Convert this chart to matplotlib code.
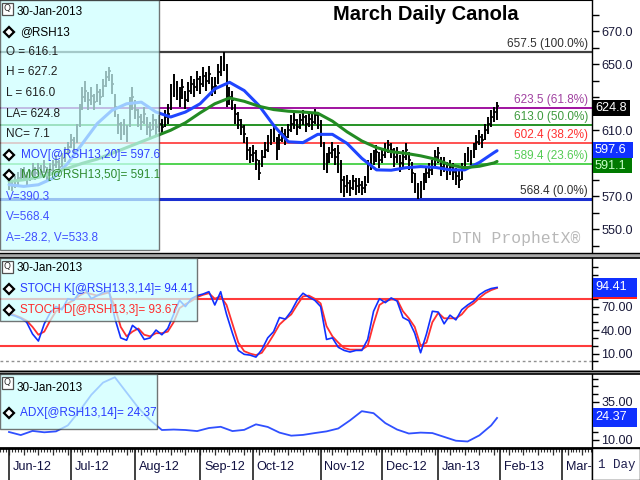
import numpy as np
import matplotlib
matplotlib.use("Agg")
import matplotlib.pyplot as plt
from matplotlib import font_manager
from matplotlib.patches import Rectangle
from matplotlib.lines import Line2D
import matplotlib.transforms as mtransforms

# ---------------- data (trading days from 1-Jun-2012 to 30-Jan-2013) ----------------
closes = [578, 576, 579, 581, 583, 584, 580, 583, 586, 584,
          587, 585, 588, 584, 586, 589, 591, 588, 593, 596,
          600, 604, 602, 610, 622, 630, 634, 628, 631, 627,
          633, 630, 637, 642, 646, 638, 624, 614, 610, 613,
          608, 625, 630, 622, 618, 615, 620, 612, 610, 616,
          612, 614, 612, 618, 620, 632, 638, 634, 630, 636,
          628, 634, 638, 636, 641, 638, 643, 640, 644, 636,
          637, 645, 650, 654, 630, 630, 628, 620, 616, 612,
          608, 598, 595, 596, 592, 584, 594, 598, 602, 606,
          608, 598, 604, 608, 606, 610, 614, 616, 612, 616,
          618, 614, 617, 615, 619, 616, 608, 595, 590, 596,
          598, 594, 596, 580, 576, 578, 575, 579, 576, 577,
          575, 577, 588, 592, 594, 597, 592, 595, 598, 601,
          598, 594, 596, 590, 594, 598, 592, 584, 578, 572,
          574, 580, 584, 586, 588, 594, 596, 588, 590, 586,
          588, 585, 582, 580, 586, 592, 596, 594, 598, 603,
          606, 604, 610, 614, 618, 621, 624.8]
highs = [582, 580, 582, 585, 587, 588, 585, 586, 590, 588,
         590, 589, 592, 588, 590, 592, 595, 592, 596, 600,
         603, 608, 606, 614, 626, 636, 640, 633, 636, 632,
         638, 635, 641, 646, 648, 644, 632, 620, 615, 617,
         613, 630, 636, 628, 623, 620, 624, 618, 615, 620,
         617, 619, 617, 622, 626, 638, 644, 640, 636, 641,
         634, 639, 643, 641, 646, 643, 648, 645, 649, 642,
         642, 650, 655, 657.5, 650, 636, 634, 626, 621, 617,
         613, 606, 600, 601, 598, 592, 598, 603, 607, 611,
         613, 606, 608, 612, 611, 614, 619, 621, 617, 620,
         622, 619, 621, 620, 623, 621, 616, 603, 596, 600,
         603, 599, 601, 592, 582, 583, 580, 583, 581, 581,
         579, 582, 592, 596, 598, 601, 597, 599, 602, 604,
         602, 599, 600, 595, 598, 602, 597, 591, 584, 578,
         579, 584, 588, 590, 592, 598, 600, 594, 594, 591,
         592, 590, 587, 586, 590, 596, 600, 598, 602, 607,
         610, 608, 614, 618, 622, 624, 627.2]
lows = [574, 573, 575, 577, 579, 580, 576, 579, 582, 580,
        583, 581, 584, 580, 582, 585, 587, 584, 588, 591,
        595, 599, 597, 602, 612, 622, 627, 622, 625, 622,
        627, 625, 630, 636, 640, 632, 618, 608, 604, 607,
        603, 612, 622, 617, 612, 610, 614, 607, 605, 610,
        607, 609, 607, 612, 614, 622, 630, 628, 624, 629,
        623, 627, 632, 630, 634, 632, 636, 634, 638, 631,
        632, 638, 643, 646, 624, 625, 622, 614, 611, 607,
        602, 592, 590, 591, 586, 580, 588, 593, 597, 601,
        603, 592, 598, 603, 601, 605, 609, 611, 607, 611,
        613, 609, 612, 610, 614, 611, 600, 586, 584, 590,
        593, 589, 584, 572, 569.5, 572, 570, 574, 571, 572,
        570.5, 572, 578, 586, 589, 591, 587, 590, 593, 596,
        593, 588, 590, 585, 588, 592, 586, 578, 572, 568.4,
        569, 574, 578, 581, 583, 588, 590, 582, 585, 580,
        583, 580, 577, 575, 580, 586, 591, 589, 593, 598,
        601, 599, 604, 608, 612, 615, 616.0]

ma_step = 5   # moving averages read every 5 trading days (+ last day)
ma20 = [577, 576, 577, 581, 590, 602, 614, 622, 626, 627,
        621, 618, 621, 626, 635, 639, 634, 625, 613, 603,
        602.5, 607.5, 607.5, 602, 593, 586, 585.8, 587.3, 588, 587.5,
        586, 586, 590.5, 596.5, 597.6]
ma50 = [579, 580, 581.5, 584, 587, 590, 592.5, 596, 599.5, 603,
        606.5, 610, 614.5, 620.5, 626, 629.5, 627.5, 624.5, 622.5, 621.5,
        621, 620.3, 615.5, 609, 603.5, 599.5, 597, 596, 594.5, 592.5,
        589, 587.3, 588.2, 590.2, 591.1]

stoch_step = 2
stoch_k = [60, 58, 55, 50, 35, 26, 48, 62, 70, 66,
           80, 78, 88, 92, 80, 84, 88, 90, 55, 30,
           27, 46, 40, 28, 30, 40, 34, 42, 60, 78,
           70, 80, 84, 86, 89, 72, 89, 60, 36, 14,
           9, 8, 5.5, 15, 30, 38, 56, 54, 64, 78,
           87, 82, 78, 70, 28, 30, 18, 14, 12, 14,
           14, 28, 64, 80, 75, 81, 77, 56, 52, 36,
           11, 35, 64, 63, 48, 59, 53, 66, 72, 77,
           85, 90, 93, 94.41]
stoch_d = [62, 59, 56, 52, 44, 34, 38, 52, 64, 68,
           74, 78, 84, 88, 86, 84, 86, 88, 70, 44,
           32, 38, 42, 34, 32, 36, 36, 38, 50, 68,
           73, 77, 82, 85, 87, 80, 83, 72, 48, 24,
           13, 10, 8, 11, 22, 34, 47, 54, 60, 72,
           83, 84, 80, 74, 45, 32, 24, 17, 15, 15,
           15, 20, 48, 72, 77, 79, 79, 64, 55, 44,
           20, 24, 50, 62, 55, 55, 55, 60, 69, 74,
           81, 87, 91, 93.67]

adx_step = 4  # ADX read every 4 trading days (+ last day)
adx = [15.2, 13.2, 15.9, 15.0, 15.6, 19.5, 29, 39.5, 47.5, 51,
       41, 31, 23, 16.5, 16.8, 16.5, 15.8, 17.8, 18.6, 15.8,
       16.6, 20.2, 18.5, 14.8, 12.8, 13.3, 14.5, 15.6, 17.5, 22.8,
       28.8, 27.5, 21, 16.8, 14.2, 14.8, 14.5, 12, 9.5, 9.0,
       13, 19.5, 24.37]

month_labels = ["Jun-12", "Jul-12", "Aug-12", "Sep-12", "Oct-12", "Nov-12",
                "Dec-12", "Jan-13", "Feb-13", "Mar-"]
month_start_day = [0, 21, 43, 65, 83, 106, 127, 146, 167, 188]

fib_levels = [657.5, 623.5, 613.0, 602.4, 589.4, 568.4]
fib_pcts = ["100.0%", "61.8%", "50.0%", "38.2%", "23.6%", "0.0%"]
fib_line_colors = ["#404040", "#990099", "#008000", "#ff3333", "#33cc33", "#1a2fd0"]
fib_text_colors = ["#303030", "#a040a0", "#3d9a3d", "#ff3030", "#55cc55", "#303030"]
fib_widths = [1.6, 1.3, 1.2, 1.2, 1.2, 2.2]

price_labeled = [550, 570, 610, 650, 670]
price_ticks = [540, 550, 560, 570, 580, 590, 600, 610, 620, 630, 640, 650, 660, 670, 680]
stoch_major = [10, 40, 70]
stoch_minor = list(range(0, 130, 10))
adx_major = [10, 35]
adx_minor = list(range(5, 55, 5))

# ---------------- fonts ----------------
avail = {f.name for f in font_manager.fontManager.ttflist}
NARROW = "Liberation Sans Narrow" in avail
SANS = "Liberation Sans Narrow" if NARROW else "Liberation Sans"
kf = 1.0 if NARROW else 0.83
MONO = "Liberation Mono"
plt.rcParams["font.family"] = [SANS, "DejaVu Sans"]
FS = 10.2 * kf

W, H = 640, 480
fig = plt.figure(figsize=(6.4, 4.8), dpi=100)
fig.patch.set_facecolor("white")


def rect(x0, y0, x1, y1):
    return [x0 / W, 1 - y1 / H, (x1 - x0) / W, (y1 - y0) / H]


def fx(px):
    return px / W


def fy(py):
    return 1 - py / H


ax = fig.add_axes(rect(0, 0, 592, 253))
ax_s = fig.add_axes(rect(0, 258, 592, 370))
ax_a = fig.add_axes(rect(0, 374, 592, 448))
ax_d = fig.add_axes(rect(0, 448, 592, 480))

XL = (-3.06, 198.3)
for a in (ax, ax_s, ax_a, ax_d):
    a.set_xlim(*XL)
    a.set_xticks([])
    for s in ("left", "bottom", "top"):
        a.spines[s].set_visible(False)
    a.spines["right"].set_color("black")
    a.spines["right"].set_linewidth(1.0)
ax.spines["top"].set_visible(True)

days = np.arange(len(closes))
ma_days = list(range(0, len(closes) - 1, ma_step)) + [len(closes) - 1]
st_days = list(range(0, len(closes), stoch_step))
adx_days = list(range(0, len(closes) - 1, adx_step)) + [len(closes) - 1]

# ---------------- main price panel ----------------
ax.set_ylim(535.7, 688.8)
for lv, c, lw in zip(fib_levels, fib_line_colors, fib_widths):
    ax.axhline(lv, color=c, lw=lw, zorder=2)
for lv, pc, c in zip(fib_levels, fib_pcts, fib_text_colors):
    ax.annotate(f"{lv:.1f} ({pc})", xy=(1, lv), xycoords=("axes fraction", "data"),
                xytext=(-4, 2), textcoords="offset pixels", ha="right", va="bottom",
                color=c, fontsize=FS, zorder=3)

ax.vlines(days, lows, highs, color="black", lw=1.4, zorder=4)
ax.hlines(closes, days, days + 0.6, color="black", lw=1.2, zorder=4)
ax.plot(ma_days, ma20, color="#1f45ff", lw=2.2, zorder=5, solid_capstyle="round")
ax.plot(ma_days, ma50, color="#238b23", lw=2.2, zorder=5, solid_capstyle="round")

ax.set_yticks(price_ticks, [f"{v:.1f}" if v in price_labeled else "" for v in price_ticks])

ax.text(fx(580), fy(239), "DTN ProphetX\u00ae", transform=fig.transFigure, ha="right",
        va="center", family=MONO, fontsize=11.8, color="#b8b8b8")
fig.text(fx(426), fy(15), "March Daily Canola", ha="center", va="center",
         fontsize=17.5 * kf, fontweight="bold", color="black", zorder=12)

# ---------------- stochastic panel ----------------
ax_s.set_ylim(-11, 132)
ax_s.axhline(80, color="#ff3b3b", lw=1.5, zorder=2)
ax_s.axhline(20, color="#ff3b3b", lw=1.5, zorder=2)
ax_s.axhline(0, color="#909090", lw=1.0, ls=(0, (2, 2)), zorder=2)
ax_s.plot(st_days, stoch_d, color="#ff3030", lw=1.3, zorder=3)
ax_s.plot(st_days, stoch_k, color="#1030ff", lw=1.2, zorder=4)
ax_s.set_yticks(stoch_major, [f"{v:.2f}" for v in stoch_major])
ax_s.set_yticks(stoch_minor, minor=True)

# ---------------- ADX panel ----------------
ax_a.set_ylim(4.74, 53.1)
ax_a.plot(adx_days, adx, color="#3050ff", lw=1.3, zorder=3)
ax_a.set_yticks(adx_major, [f"{v:.2f}" for v in adx_major])
ax_a.set_yticks(adx_minor, minor=True)

for a in (ax, ax_s, ax_a):
    a.yaxis.tick_right()
    a.tick_params(axis="y", which="both", direction="out", left=False, right=True,
                  labelleft=False, labelright=True, color="black", width=1,
                  labelsize=FS + 0.6, labelcolor="#1a1a3a", pad=1.5)
    a.tick_params(axis="y", which="major", length=5)
    a.tick_params(axis="y", which="minor", length=4)

# ---------------- date axis ----------------
ax_d.set_ylim(0, 1)
ax_d.set_yticks([])
tr = mtransforms.blended_transform_factory(ax_d.transData, ax_d.transAxes)
all_days = np.arange(-3, 199)
ax_d.vlines(all_days, 1 - 3.5 / 32, 1, transform=tr, color="#303030", lw=0.8)
ax_d.vlines(all_days[all_days % 5 == 0], 1 - 7 / 32, 1, transform=tr, color="#303030", lw=0.9)
ax_d.vlines(month_start_day, 0, 1, transform=tr, color="#202020", lw=1.2)
for d0, lab in zip(month_start_day, month_labels):
    ax_d.text(d0 + 1.3, 0.42, lab, transform=tr, ha="left", va="center",
              fontsize=FS + 0.6, color="#101040", clip_on=True)

# ---------------- figure-level decorations ----------------
def frect(x0, y0, x1, y1, fc, ec="none", z=10, alpha=1.0, lw=1.0):
    r = Rectangle((fx(x0), fy(y1)), (x1 - x0) / W, (y1 - y0) / H, transform=fig.transFigure,
                  facecolor=fc, edgecolor=ec, lw=lw, zorder=z, alpha=alpha)
    fig.add_artist(r)


def fline(x0, y0, x1, y1, c="black", lw=1.0, z=10):
    fig.add_artist(Line2D([fx(x0), fx(x1)], [fy(y0), fy(y1)], transform=fig.transFigure,
                          color=c, lw=lw, zorder=z))


def ftext(x, y, s, c="black", z=12, size=None, ha="left", family=None):
    kw = {}
    if family:
        kw["family"] = family
    fig.text(fx(x), fy(y), s, color=c, ha=ha, va="center", fontsize=size or FS, zorder=z, **kw)


def diamond(x, y, z=12):
    fig.add_artist(Line2D([fx(x)], [fy(y)], transform=fig.transFigure, marker="D",
                          markersize=5.5, mfc="white", mec="black", mew=1.6, zorder=z))


def qicon(x, y, z=12):
    frect(x, y, x + 11, y + 12, "white", ec="#505050", z=z, lw=0.9)
    fig.text(fx(x + 5.5), fy(y + 6), "Q", ha="center", va="center", fontsize=6.5,
             color="#303030", zorder=z + 0.1, family="DejaVu Sans")


# panel separators
frect(0, 253, 640, 258, "#a8a8a8", z=9)
fline(0, 253.5, 640, 253.5, lw=1.0, z=9.5)
fline(0, 257.5, 640, 257.5, lw=1.2, z=9.5)
frect(0, 370, 640, 374, "#a8a8a8", z=9)
fline(0, 370.5, 640, 370.5, lw=1.0, z=9.5)
fline(0, 373.5, 640, 373.5, lw=1.2, z=9.5)
fline(0, 448, 640, 448, lw=2.0, z=9.5)

# main legend
BOX = (0.80, 1.0, 1.0)
frect(0, 0, 159, 250, BOX, ec="#404040", z=10, alpha=0.72)
qicon(2, 3)
ftext(17, 12, "30-Jan-2013")
diamond(9, 32)
ftext(20, 32, "@RSH13")
for yy, s in [(52, "O = 616.1"), (72, "H = 627.2"), (93, "L = 616.0"),
              (114, "LA= 624.8"), (134, "NC= 7.1")]:
    ftext(6, yy, s, c="#202020")
diamond(9, 155)
ftext(21, 155, "MOV[@RSH13,20]= 597.6", c="#3040ff")
diamond(9, 175)
ftext(21, 175, "MOV[@RSH13,50]= 591.1", c="#2e8b2e")
for yy, s in [(197, "V=390.3"), (217, "V=568.4"), (238, "A=-28.2, V=533.8")]:
    ftext(6, yy, s, c="#4050ff")

# stochastic legend
frect(0, 258, 197, 321, BOX, ec="#404040", z=10, alpha=0.72)
qicon(2, 261)
ftext(17, 268, "30-Jan-2013")
diamond(9, 289)
ftext(20, 289, "STOCH K[@RSH13,3,14]= 94.41", c="#2a3cff")
diamond(9, 310)
ftext(20, 310, "STOCH D[@RSH13,3]= 93.67", c="#ff2a2a")

# ADX legend
frect(0, 374, 157, 429, BOX, ec="#404040", z=10, alpha=0.72)
qicon(2, 377)
ftext(17, 388, "30-Jan-2013")
diamond(9, 413)
ftext(20, 413, "ADX[@RSH13,14]= 24.37", c="#2a3cff")

# right-side value boxes
def vbox(x0, y0, x1, y1, fc, s, tc, z, ty=None):
    frect(x0, y0, x1, y1, fc, z=z)
    if s:
        ftext(x0 + 2, ty if ty is not None else (y0 + y1) / 2, s, c=tc, z=z + 0.1, size=FS + 0.6)


vbox(593, 100, 630, 116, "black", "624.8", "white", 20)
vbox(593, 158, 632, 173, "#007a00", "591.1", "#c8ffc8", 20, ty=166)
vbox(593, 142, 633, 158, "#1030ff", "597.6", "white", 21)
vbox(593, 281, 637, 299, "#ff2020", "", "white", 20)
vbox(593, 278, 637, 297, "#1030ff", "94.41", "white", 21)
vbox(593, 408, 637, 427, "#1030ff", "24.37", "white", 20)

# "1 Day" box
frect(592, 448, 640, 480, "white", ec="black", z=15)
ftext(598, 465, "1 Day", c="#202050", z=16, size=9.0, family=MONO)

fig.savefig("out.png", dpi=100)
